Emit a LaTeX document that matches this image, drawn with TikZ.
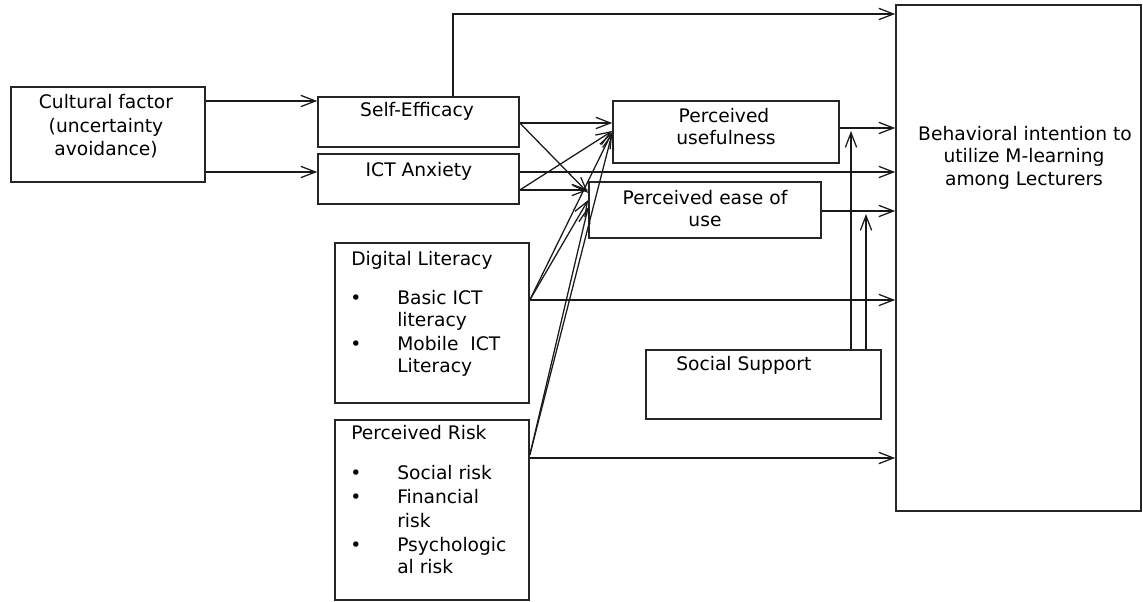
\documentclass[tikz,border=0pt]{standalone}
\usepackage{fontspec}
\setmainfont{DejaVu Sans}
\usetikzlibrary{arrows.meta,fit}
\begin{document}
\begin{tikzpicture}[x=0.75pt,y=-0.75pt,
  box/.style={draw, line width=1.2pt, inner sep=0pt, draw=black!85},
  lbl/.style={inner sep=0pt, anchor=base, font=\fontsize{14}{17.5}\selectfont},
  lbll/.style={lbl, anchor=base west},
  arr/.style={line width=0.95pt, draw=black!90, -{Straight Barb[length=11pt,width=8.5pt]}}]
\useasboundingbox (0,0) rectangle (1143,602);
% boxes
\node[box, fit={(11,87) (205,182)}] (CF) {};
\node[box, fit={(318,97) (519,147)}] (SE) {};
\node[box, fit={(318,154) (519,204)}] (ICT) {};
\node[box, fit={(613,101) (839,163)}] (PU) {};
\node[box, fit={(589,182) (821,238)}] (PEOU) {};
\node[box, fit={(335,243) (529,403)}] (DL) {};
\node[box, fit={(335,420) (529,600)}] (PR) {};
\node[box, fit={(646,350) (881,419)}] (SS) {};
\node[box, fit={(896,5) (1141,511)}] (BI) {};
% texts
\node[lbl] (cf1) at (106,109) {Cultural factor};
\node[lbl] (cf2) at (106,133) {(uncertainty};
\node[lbl] (cf3) at (106,156) {avoidance)};
\node[lbl] (se1) at (417,117) {Self-Efficacy};
\node[lbl] (ict1) at (419,177) {ICT Anxiety};
\node[lbl] (pu1) at (724,123) {Perceived};
\node[lbl] (pu2) at (726,145) {usefulness};
\node[lbl] (pe1) at (705,205) {Perceived ease of};
\node[lbl] (pe2) at (705,227) {use};
\node[lbl] (bi1) at (1025,141) {Behavioral intention to};
\node[lbl] (bi2) at (1024,163) {utilize M-learning};
\node[lbl] (bi3) at (1024,186) {among Lecturers};
\node[lbll] (dl0) at (351,266) {Digital Literacy};
\node[lbl] (dlb1) at (356,305) {•};
\node[lbl] (dlb2) at (356,351) {•};
\node[lbll] (dl1) at (397,305) {Basic ICT};
\node[lbll] (dl2) at (397,327) {literacy};
\node[lbll] (dl3) at (397,351) {Mobile\ \ ICT};
\node[lbll] (dl4) at (397,373) {Literacy};
\node[lbll] (pr0) at (351,440) {Perceived Risk};
\node[lbl] (prb1) at (356,479) {•};
\node[lbl] (prb2) at (356,503) {•};
\node[lbl] (prb3) at (356,551) {•};
\node[lbll] (pr1) at (397,479) {Social risk};
\node[lbll] (pr2) at (397,503) {Financial};
\node[lbll] (pr3) at (397,527) {risk};
\node[lbll] (pr4) at (397,551) {Psychologic};
\node[lbll] (pr5) at (397,573) {al risk};
\node[lbll] (ss1) at (676,371) {Social Support};
% helper coordinates
\coordinate (topbend) at (453,14);
\coordinate (ssu) at (851,131);
\coordinate (sse) at (866,214);
% connectors
\draw[arr] (CF.east |- 0,101) -- (SE.west |- 0,101);
\draw[arr] (CF.east |- 0,172) -- (ICT.west |- 0,172);
\draw[arr] (SE.north -| topbend) -- (topbend) -- (BI.west |- topbend);
\draw[arr] (SE.east |- 0,123) -- (PU.west |- 0,123);
\draw[arr] (SE.east |- 0,123) -- (PEOU.west |- 0,193);
\draw[arr] (ICT.east |- 0,190) -- (PEOU.west |- 0,190);
\draw[arr] (ICT.east |- 0,190) -- (PU.west |- 0,131);
\draw[arr] (ICT.east |- 0,172) -- (BI.west |- 0,172);
\draw[arr] (DL.east |- 0,300) -- (PU.west |- 0,132);
\draw[arr] (DL.east |- 0,300) -- (PEOU.west |- 0,200);
\draw[arr] (DL.east |- 0,300) -- (BI.west |- 0,300);
\draw[arr] (PR.east |- 0,455) -- (PU.west |- 0,133);
\draw[arr] (PR.east |- 0,455) -- (PEOU.west |- 0,207);
\draw[arr] (PR.east |- 0,458) -- (BI.west |- 0,458);
\draw[arr] (PU.east |- 0,128) -- (BI.west |- 0,128);
\draw[arr] (PEOU.east |- 0,211) -- (BI.west |- 0,211);
\draw[arr] (SS.north -| ssu) -- (ssu);
\draw[arr] (SS.north -| sse) -- (sse);
\end{tikzpicture}
\end{document}
